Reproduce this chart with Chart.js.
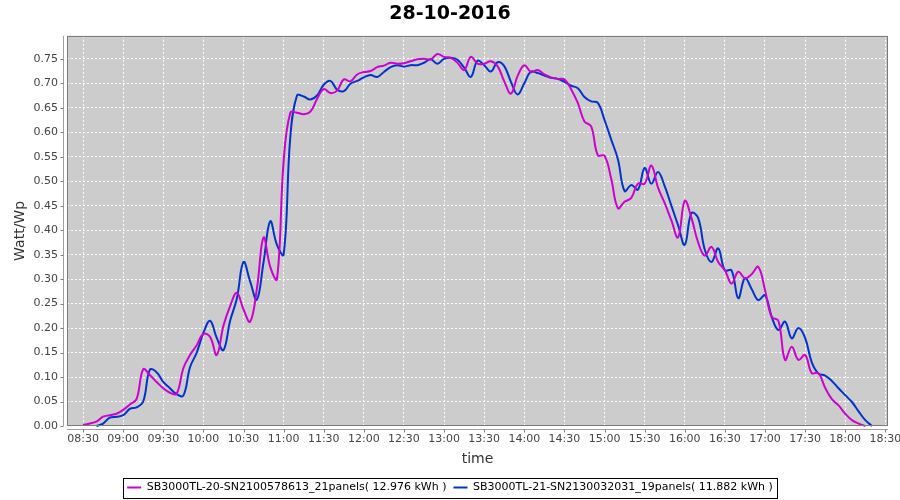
<!DOCTYPE html>
<html><head><meta charset="utf-8">
<script src="https://cdn.jsdelivr.net/npm/chart.js@4/dist/chart.umd.min.js"></script>
<style>html,body{margin:0;padding:0;background:#fff;overflow:hidden;}</style>
</head><body>
<canvas id="c" width="900" height="500"></canvas>
<script>
const chartTitle = '28-10-2016';
const xAxisTitle = 'time';
const yAxisTitle = 'Watt/Wp';
const seriesNames = ['SB3000TL-20-SN2100578613_21panels( 12.976 kWh )', 'SB3000TL-21-SN2130032031_19panels( 11.882 kWh )'];

const times = ['08:30','08:35','08:40','08:45','08:50','08:55','09:00','09:05','09:10','09:15','09:20','09:25',
'09:30','09:35','09:40','09:45','09:50','09:55','10:00','10:05','10:10','10:15','10:20','10:25',
'10:30','10:35','10:40','10:45','10:50','10:55','11:00','11:05','11:10','11:15','11:20','11:25',
'11:30','11:35','11:40','11:45','11:50','11:55','12:00','12:05','12:10','12:15','12:20','12:25',
'12:30','12:35','12:40','12:45','12:50','12:55','13:00','13:05','13:10','13:15','13:20','13:25',
'13:30','13:35','13:40','13:45','13:50','13:55','14:00','14:05','14:10','14:15','14:20','14:25',
'14:30','14:35','14:40','14:45','14:50','14:55','15:00','15:05','15:10','15:15','15:20','15:25',
'15:30','15:35','15:40','15:45','15:50','15:55','16:00','16:05','16:10','16:15','16:20','16:25',
'16:30','16:35','16:40','16:45','16:50','16:55','17:00','17:05','17:10','17:15','17:20','17:25',
'17:30','17:35','17:40','17:45','17:50','17:55','18:00','18:05','18:10','18:15','18:20','18:25','18:30'];

const seriesMagenta = [0.002,0.005,0.009,0.019,0.022,0.025,0.033,0.044,0.055,0.116,0.104,0.090,
0.077,0.068,0.066,0.118,0.145,0.165,0.188,0.182,0.145,0.205,0.245,0.272,
0.238,0.213,0.280,0.385,0.325,0.300,0.540,0.640,0.640,0.637,0.642,0.668,
0.688,0.680,0.685,0.708,0.704,0.718,0.723,0.725,0.733,0.736,0.742,0.740,
0.741,0.745,0.749,0.750,0.749,0.760,0.754,0.752,0.742,0.727,0.754,0.740,
0.740,0.745,0.735,0.704,0.679,0.715,0.737,0.723,0.727,0.718,0.712,0.709,
0.708,0.688,0.660,0.622,0.612,0.553,0.552,0.505,0.445,0.458,0.466,0.495,
0.495,0.532,0.487,0.455,0.420,0.385,0.460,0.425,0.375,0.348,0.366,0.335,
0.318,0.291,0.315,0.302,0.310,0.325,0.278,0.223,0.215,0.135,0.162,0.135,
0.145,0.108,0.108,0.078,0.055,0.042,0.025,0.012,0.005,0.000,null,null,null];

const seriesBlue = [null,null,0.000,0.005,0.017,0.019,0.022,0.035,0.038,0.050,0.115,0.110,
0.090,0.077,0.065,0.062,0.120,0.150,0.190,0.215,0.180,0.155,0.215,0.260,
0.335,0.295,0.258,0.335,0.418,0.370,0.350,0.590,0.675,0.673,0.667,0.675,
0.697,0.705,0.687,0.684,0.699,0.705,0.712,0.717,0.713,0.723,0.733,0.737,
0.734,0.737,0.737,0.742,0.749,0.740,0.750,0.752,0.748,0.732,0.713,0.746,
0.737,0.724,0.743,0.735,0.703,0.677,0.700,0.724,0.721,0.716,0.711,0.709,
0.703,0.695,0.690,0.672,0.663,0.660,0.625,0.585,0.545,0.480,0.492,0.483,
0.527,0.495,0.519,0.490,0.450,0.410,0.370,0.435,0.425,0.360,0.335,0.363,
0.318,0.318,0.261,0.302,0.280,0.257,0.267,0.223,0.196,0.213,0.179,0.200,
0.180,0.130,0.107,0.103,0.092,0.077,0.063,0.049,0.030,0.012,0.000,null,null];

const xTickLabels = ['08:30','09:00','09:30','10:00','10:30','11:00','11:30','12:00','12:30','13:00','13:30',
'14:00','14:30','15:00','15:30','16:00','16:30','17:00','17:30','18:00','18:30'];
const yTickValues = [0,0.05,0.10,0.15,0.20,0.25,0.30,0.35,0.40,0.45,0.50,0.55,0.60,0.65,0.70,0.75];

function toMin(s){ const p = s.split(':'); return (+p[0])*60 + (+p[1]); }
function fmtMin(v){ const h = Math.floor(v/60), m = Math.round(v - h*60); return String(h).padStart(2,'0') + ':' + String(m).padStart(2,'0'); }
function pts(vals){ return times.map((t,i)=>({x: toMin(t), y: vals[i]})); }

const FONT = "'DejaVu Sans', sans-serif";

const plotDeco = {
  id: 'plotDeco',
  beforeDraw(chart){
    const {ctx, chartArea:a} = chart;
    ctx.save();
    ctx.fillStyle = '#cccccc';
    ctx.fillRect(a.left, a.top, a.right-a.left, a.bottom-a.top);
    ctx.restore();
  },
  afterDraw(chart){
    const {ctx, chartArea:a, scales} = chart;
    ctx.save();
    // plot outline
    ctx.strokeStyle = '#7a7a7a';
    ctx.lineWidth = 1;
    ctx.strokeRect(Math.round(a.left)+0.5, Math.round(a.top)+0.5, Math.round(a.right-a.left)-1, Math.round(a.bottom-a.top)-1);
    // offset axis lines with outward tick marks
    ctx.strokeStyle = '#a0a0a0';
    ctx.beginPath();
    const ax = Math.round(a.left) - 4 + 0.5;
    ctx.moveTo(ax, a.top); ctx.lineTo(ax, a.bottom);
    const ay = Math.round(a.bottom) + 3 + 0.5;
    ctx.moveTo(a.left, ay); ctx.lineTo(a.right, ay);
    ctx.stroke();
    ctx.strokeStyle = '#808080';
    ctx.beginPath();
    scales.y.ticks.forEach(t => { const py = Math.round(scales.y.getPixelForValue(t.value)) + 0.5; ctx.moveTo(ax - 3, py); ctx.lineTo(ax, py); });
    scales.x.ticks.forEach(t => { const px = Math.round(scales.x.getPixelForValue(t.value)) + 0.5; ctx.moveTo(px, ay); ctx.lineTo(px, ay + 3); });
    ctx.stroke();
    // legend frame
    const hb = chart.legend && chart.legend.legendHitBoxes;
    if (hb && hb.length){
      const last = hb[hb.length-1];
      const l = Math.round(hb[0].left) - 4;
      const r = Math.round(last.left + last.width) + 4;
      const cy = hb[0].top + hb[0].height/2;
      ctx.strokeStyle = '#000';
      ctx.strokeRect(l+0.5, Math.round(cy-10)+0.5, r-l, 20);
    }
    ctx.restore();
  }
};

new Chart(document.getElementById('c'), {
  type: 'line',
  data: {
    datasets: [
      {label: seriesNames[0], data: pts(seriesMagenta), borderColor: '#cc00cc', backgroundColor: '#cc00cc', borderWidth: 2, clip: 3},
      {label: seriesNames[1], data: pts(seriesBlue), borderColor: '#0033cc', backgroundColor: '#0033cc', borderWidth: 2, clip: 3}
    ]
  },
  options: {
    responsive: false,
    animation: false,
    devicePixelRatio: 1,
    layout: {padding: {left: 0, right: 0, top: 0, bottom: -3}},
    elements: {point: {radius: 0, hoverRadius: 0}, line: {tension: 0.4}},
    plugins: {
      title: {display: true, text: chartTitle, color: '#000', font: {family: FONT, size: 19, weight: 'bold'}, padding: {top: 3, bottom: 10}},
      legend: {position: 'bottom', labels: {usePointStyle: true, pointStyle: 'line', pointStyleWidth: 14, padding: 7, color: '#000', font: {family: FONT, size: 11}}},
      tooltip: {enabled: false}
    },
    scales: {
      x: {
        type: 'linear', min: 498, max: 1112,
        afterBuildTicks: s => { s.ticks = xTickLabels.map(l => ({value: toMin(l)})); },
        afterFit: s => { s.height = 49; s.paddingRight = 12; s.paddingLeft = 0; },
        ticks: {callback: v => fmtMin(v), color: '#444', font: {family: FONT, size: 11}, padding: 7, maxRotation: 0, autoSkip: false},
        grid: {color: 'rgba(255,255,255,0.95)', lineWidth: 1, drawTicks: false},
        border: {display: false, dash: [2,2]},
        title: {display: true, text: xAxisTitle, color: '#333', font: {family: FONT, size: 14}, padding: {top: 0, bottom: 7}}
      },
      y: {
        min: 0, max: 0.797,
        afterBuildTicks: s => { s.ticks = yTickValues.map(v => ({value: v})); },
        afterFit: s => { s.width = 67; s.paddingTop = 0; s.paddingBottom = 0; },
        ticks: {callback: v => Number(v).toFixed(2), color: '#444', font: {family: FONT, size: 11}, padding: 9},
        grid: {color: 'rgba(255,255,255,0.95)', lineWidth: 1, drawTicks: false},
        border: {display: false, dash: [2,2]},
        title: {display: true, text: yAxisTitle, color: '#333', font: {family: FONT, size: 14}, padding: {top: 12, bottom: 0}}
      }
    }
  },
  plugins: [plotDeco]
});
</script>
</body></html>
